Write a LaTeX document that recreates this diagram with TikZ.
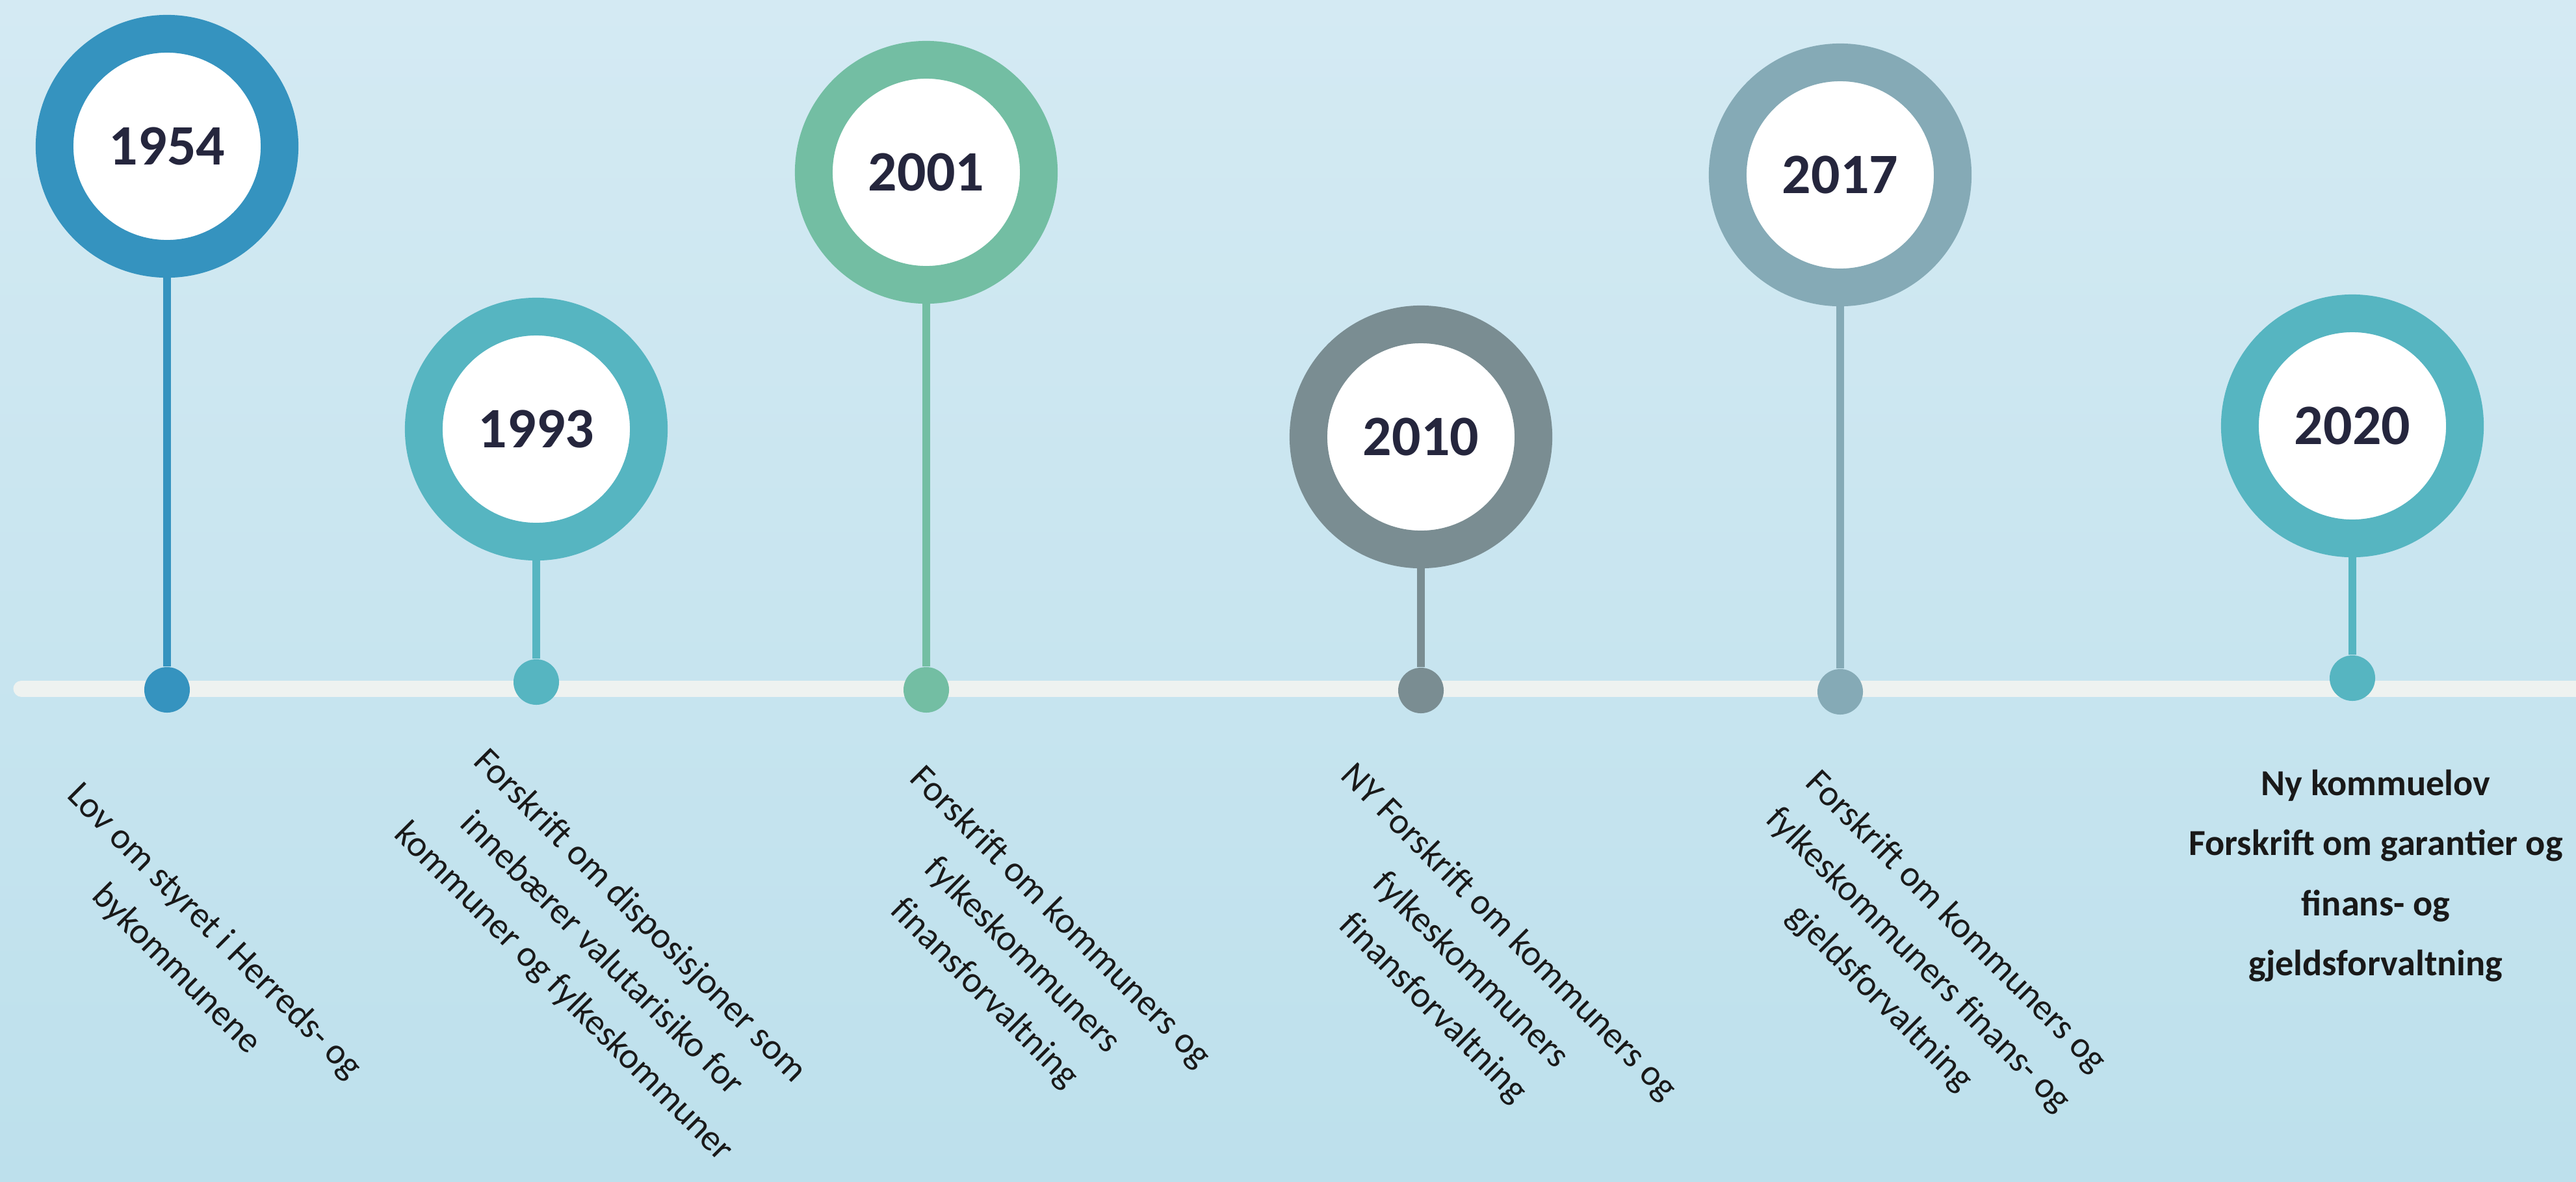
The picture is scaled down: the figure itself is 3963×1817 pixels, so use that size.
\documentclass[tikz,border=0pt]{standalone}
\usepackage{fontspec}
\setmainfont{Carlito}
\definecolor{bgtop}{HTML}{D4EAF3}
\definecolor{bgmid}{HTML}{A5D4E6}
\definecolor{bgbot}{HTML}{BDE0EC}
\definecolor{tlwhite}{HTML}{EEF2F0}
\definecolor{yeartext}{HTML}{25263D}
\definecolor{cblue}{HTML}{3593BF}
\definecolor{cteal}{HTML}{56B5C1}
\definecolor{cgreen}{HTML}{73BEA3}
\definecolor{cgrey}{HTML}{7A8D92}
\definecolor{cslate}{HTML}{85AAB6}
\begin{document}
\begin{tikzpicture}[x=0.01cm,y=-0.01cm,
  ring/.style={circle,draw=#1,fill=white,line width=0.58cm,minimum size=3.46cm,inner sep=0pt,
    text=yeartext,font=\bfseries\fontsize{25}{30}\selectfont},
  tldot/.style={circle,fill=#1,minimum size=0.7cm,inner sep=0pt},
  tlstem/.style={draw=#1,line width=0.12cm},
  lbl/.style={rotate=-45,align=center,inner sep=0pt,text=black!90,font=\fontsize{16}{23.5}\selectfont}]
\useasboundingbox (0,0) rectangle (3963,1817);
\shade[top color=bgtop,middle color=bgmid,bottom color=bgbot] (0,0) rectangle (3963,1817);
\coordinate (tlstart) at (33,1059);
\coordinate (tlend) at (3990,1059);
\draw[tlwhite,line width=0.25cm,line cap=round] (tlstart) -- (tlend);
\node[ring=cblue] (r1954) at (257,225) {1954};
\node[ring=cteal] (r1993) at (825,660) {1993};
\node[ring=cgreen] (r2001) at (1425,265) {2001};
\node[ring=cgrey] (r2010) at (2186,672) {2010};
\node[ring=cslate] (r2017) at (2831,269) {2017};
\node[ring=cteal] (r2020) at (3619,655) {2020};
\node[tldot=cblue] (d1954) at (257,1061) {};
\node[tldot=cteal] (d1993) at (825,1049) {};
\node[tldot=cgreen] (d2001) at (1425,1061) {};
\node[tldot=cgrey] (d2010) at (2186,1062) {};
\node[tldot=cslate] (d2017) at (2831,1064) {};
\node[tldot=cteal] (d2020) at (3619,1043) {};
\draw[tlstem=cblue] (r1954) -- (d1954);
\draw[tlstem=cteal] (r1993) -- (d1993);
\draw[tlstem=cgreen] (r2001) -- (d2001);
\draw[tlstem=cgrey] (r2010) -- (d2010);
\draw[tlstem=cslate] (r2017) -- (d2017);
\draw[tlstem=cteal] (r2020) -- (d2020);
\node[lbl] (t1954) at (300,1462) {Lov om styret i Herreds- og\\bykommunene};
\node[lbl] (t1993) at (925,1468) {Forskrift om disposisjoner som\\innebærer valutarisiko for\\kommuner og fylkeskommuner};
\node[lbl] (t2001) at (1572,1470) {Forskrift om kommuners og\\fylkeskommuners\\finansforvaltning};
\node[lbl] (t2010) at (2262,1493) {NY Forskrift om kommuners og\\fylkeskommuners\\finansforvaltning};
\node[lbl] (t2017) at (2950,1477) {Forskrift om kommuners og\\fylkeskommuners finans- og\\gjeldsforvaltning};
\node[align=center,inner sep=0pt,text=black!90,font=\bfseries\fontsize{16}{26.2}\selectfont] (t2020) at (3655,1347)
  {Ny kommuelov\\Forskrift om garantier og\\finans- og\\gjeldsforvaltning};
\end{tikzpicture}
\end{document}
